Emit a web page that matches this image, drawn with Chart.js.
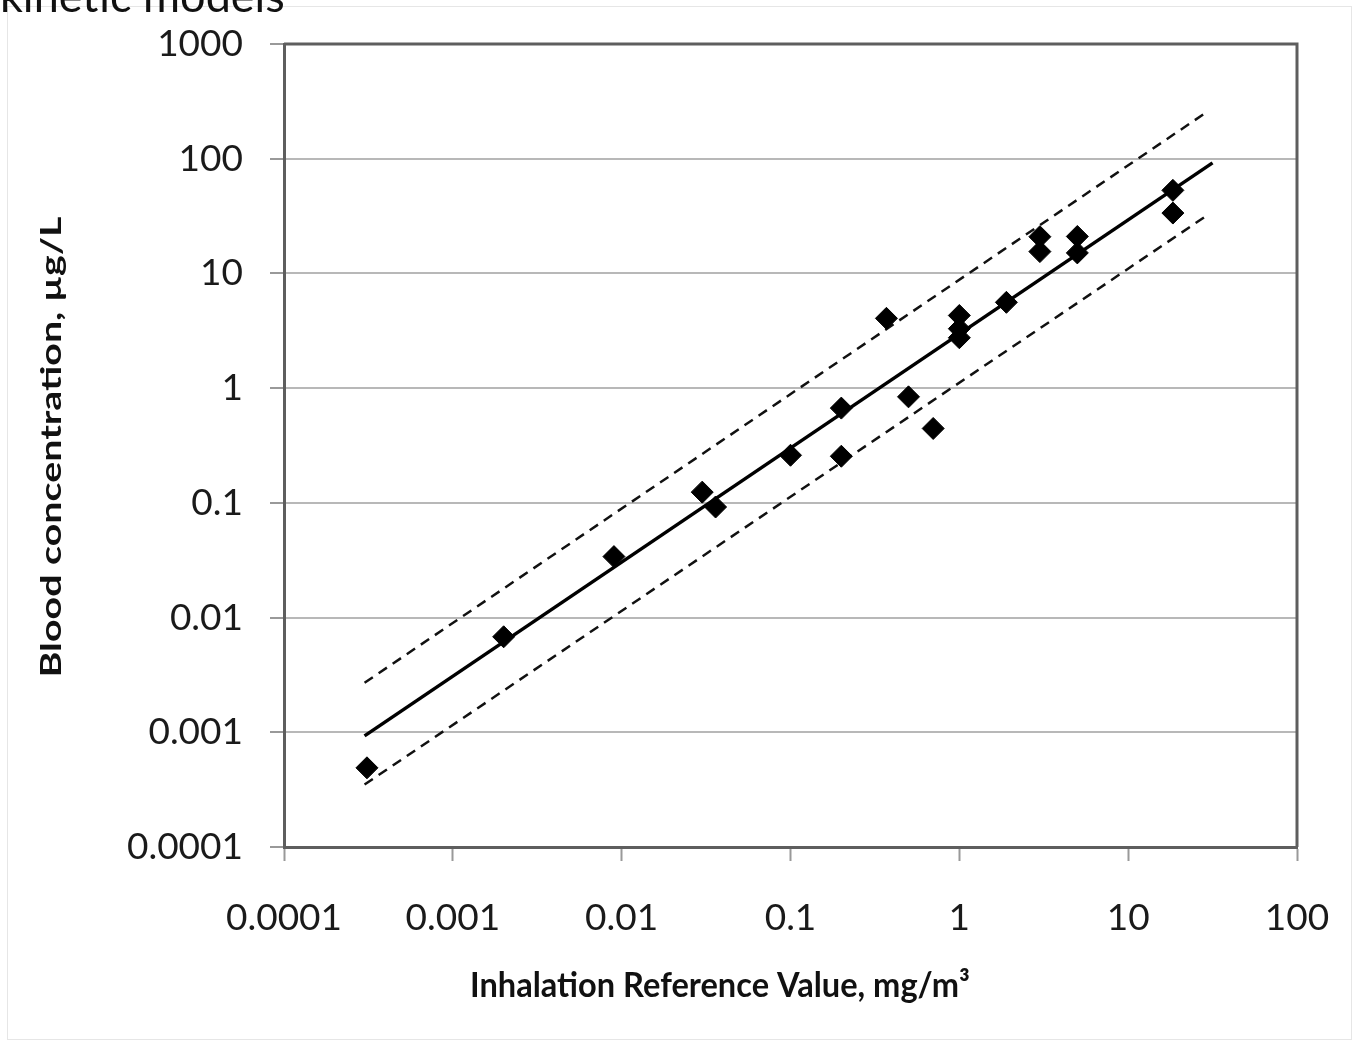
<!DOCTYPE html>
<html>
<head>
<meta charset="utf-8">
<script src="https://cdn.jsdelivr.net/npm/chart.js@4.4.1/dist/chart.umd.min.js"></script>
<style>
  html, body { margin: 0; padding: 0; background: #fff; }
  canvas { display: block; }
</style>
</head>
<body>
<canvas id="chart" width="1358" height="1047"></canvas>
<script>
// measured points (inhalation reference value vs blood concentration)
const refValues = [0.00031, 0.002, 0.009, 0.03, 0.036, 0.1, 0.2, 0.2, 0.37, 0.5, 0.7,
  1.0, 1.0, 1.0, 1.9, 3.0, 3.0, 5.0, 5.0, 18.4, 18.4];
const bloodValues = [0.00049, 0.0068, 0.034, 0.124, 0.092, 0.26, 0.67, 0.255, 4.06, 0.84, 0.445,
  4.3, 3.3, 2.75, 5.6, 20.9, 15.5, 21, 15.1, 53, 33.6];

// regression line and the two dashed bounds
const fitX = [0.0003, 31.6];
const fitY = [0.00093, 92];
const upperX = [0.0003, 30];
const upperY = [0.0027, 262];
const lowerX = [0.0003, 30];
const lowerY = [0.00035, 32.8];

const xTickValues = [0.0001, 0.001, 0.01, 0.1, 1, 10, 100];
const xTickLabels = ['0.0001', '0.001', '0.01', '0.1', '1', '10', '100'];
const yTickValues = [0.0001, 0.001, 0.01, 0.1, 1, 10, 100, 1000];
const yTickLabels = ['0.0001', '0.001', '0.01', '0.1', '1', '10', '100', '1000'];

const headerText = 'kinetic models';
const xTitle = 'Inhalation Reference Value, mg/m\u00B3';
const yTitle = 'Blood concentration, \u00B5g/L';

function toPoints(xs, ys) {
  return xs.map((x, i) => ({ x: x, y: ys[i] }));
}

const decorations = {
  id: 'decorations',
  beforeDraw(chart) {
    const ctx = chart.ctx;
    ctx.save();
    ctx.strokeStyle = '#e6e6e6';
    ctx.lineWidth = 1;
    ctx.strokeRect(7.5, 6.5, 1344, 1033);
    ctx.fillStyle = '#111';
    ctx.font = '45px Lato';
    ctx.textAlign = 'left';
    ctx.textBaseline = 'alphabetic';
    ctx.fillText(headerText, 0, 12);
    ctx.restore();
  },
  beforeDatasetsDraw(chart) {
    const a = chart.chartArea;
    const ctx = chart.ctx;
    ctx.save();
    ctx.strokeStyle = '#5e5e5e';
    ctx.lineWidth = 3;
    ctx.beginPath();
    ctx.moveTo(a.left, a.top);
    ctx.lineTo(a.right, a.top);
    ctx.lineTo(a.right, a.bottom);
    ctx.stroke();
    ctx.restore();
  },
  afterDraw(chart) {
    const ctx = chart.ctx;
    ctx.save();
    ctx.fillStyle = '#111';
    ctx.textAlign = 'center';
    ctx.textBaseline = 'alphabetic';

    ctx.font = 'bold 34px Lato';
    let w = ctx.measureText(xTitle).width;
    ctx.save();
    ctx.translate(720, 997);
    ctx.scale(500 / w, 1);
    ctx.fillText(xTitle, 0, 0);
    ctx.restore();

    ctx.font = 'bold 29px Lato';
    w = ctx.measureText(yTitle).width;
    ctx.translate(61, 447);
    ctx.rotate(-Math.PI / 2);
    ctx.scale(461 / w, 1);
    ctx.fillText(yTitle, 0, 0);
    ctx.restore();
  }
};

const ctx = document.getElementById('chart').getContext('2d');
new Chart(ctx, {
  type: 'scatter',
  data: {
    datasets: [
      {
        data: toPoints(refValues, bloodValues),
        pointStyle: 'rectRot',
        pointRadius: 11,
        backgroundColor: '#000',
        borderColor: '#000',
        borderWidth: 1,
        showLine: false
      },
      {
        data: toPoints(fitX, fitY),
        showLine: true,
        borderColor: '#000',
        borderWidth: 3.5,
        pointRadius: 0
      },
      {
        data: toPoints(upperX, upperY),
        showLine: true,
        borderColor: '#111',
        borderWidth: 2.5,
        borderDash: [10, 7],
        pointRadius: 0
      },
      {
        data: toPoints(lowerX, lowerY),
        showLine: true,
        borderColor: '#111',
        borderWidth: 2.5,
        borderDash: [10, 7],
        pointRadius: 0
      }
    ]
  },
  options: {
    responsive: false,
    animation: false,
    layout: { padding: { left: 0, right: 61, top: 44, bottom: 0 } },
    plugins: {
      legend: { display: false },
      tooltip: { enabled: false }
    },
    scales: {
      x: {
        type: 'logarithmic',
        position: 'bottom',
        min: 0.0001,
        max: 100,
        afterBuildTicks: scale => { scale.ticks = xTickValues.map(v => ({ value: v })); },
        afterFit: scale => {
          scale.height = 200;
          scale.paddingLeft = 0;
          scale.paddingRight = 0;
        },
        ticks: {
          callback: (v, i) => xTickLabels[i],
          autoSkip: false,
          maxRotation: 0,
          padding: 35,
          color: '#1a1a1a',
          font: { family: 'Lato', size: 37 }
        },
        grid: {
          drawOnChartArea: false,
          tickLength: 14,
          tickColor: '#999',
          tickWidth: 2
        },
        border: { color: '#5e5e5e', width: 3 }
      },
      y: {
        type: 'logarithmic',
        min: 0.0001,
        max: 1000,
        afterBuildTicks: scale => { scale.ticks = yTickValues.map(v => ({ value: v })); },
        afterFit: scale => {
          scale.width = 284;
          scale.paddingTop = 0;
          scale.paddingBottom = 0;
        },
        ticks: {
          callback: (v, i) => yTickLabels[i],
          autoSkip: false,
          padding: 27,
          color: '#1a1a1a',
          font: { family: 'Lato', size: 37 }
        },
        grid: {
          color: '#b8b8b8',
          lineWidth: 2,
          tickLength: 14,
          tickColor: '#999',
          tickWidth: 2
        },
        border: { color: '#5e5e5e', width: 3 }
      }
    }
  },
  plugins: [decorations]
});
</script>
</body>
</html>
